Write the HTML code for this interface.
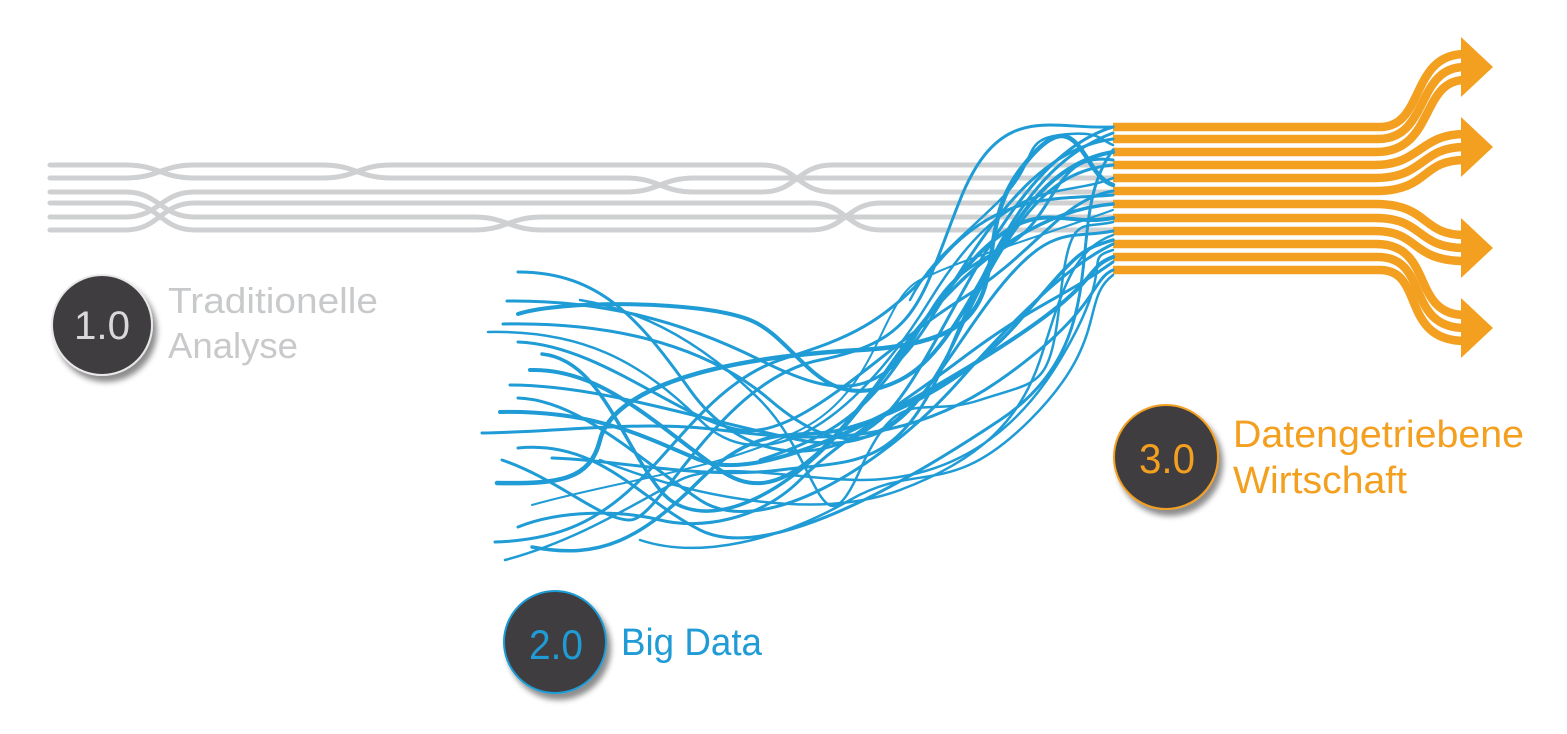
<!DOCTYPE html>
<html><head><meta charset="utf-8"><style>
html,body{margin:0;padding:0;background:#fff;}
svg{display:block;}
text{font-family:"Liberation Sans Narrow","Liberation Sans",sans-serif;}
</style></head><body>
<svg width="1567" height="734" viewBox="0 0 1567 734" xmlns="http://www.w3.org/2000/svg">
<defs>
<filter id="sh" x="-30%" y="-30%" width="170%" height="170%">
<feDropShadow dx="4" dy="6" stdDeviation="3" flood-color="#000" flood-opacity="0.45"/>
</filter>
</defs>
<g fill="none" stroke="#cfd0d2" stroke-width="5" stroke-linecap="round">
<path d="M50 165 H125 C160 165 160 178 195 178 H322 C357 178 357 165 392 165 H762 C797 165 797 192 832 192 H1112"/>
<path d="M50 178 H125 C160 178 160 165 195 165 H322 C357 165 357 178 392 178 H625 C660 178 660 192 695 192 H762 C797 192 797 165 832 165 H1112"/>
<path d="M50 192 H125 C160 192 160 217 195 217 H473 C508 217 508 230 543 230 H811 C846 230 846 203 881 203 H1112"/>
<path d="M50 203 H125 C160 203 160 230 195 230 H473 C508 230 508 217 543 217 H1112"/>
<path d="M50 217 H125 C160 217 160 192 195 192 H625 C660 192 660 178 695 178 H1112"/>
<path d="M50 230 H125 C160 230 160 203 195 203 H811 C846 203 846 230 881 230 H1112"/>
</g>
<g fill="none" stroke="#f39f20" stroke-width="8.5">
<path d="M1113 127 H1380 C1425 127 1410 54 1465 54"/>
<path d="M1113 139 H1378 C1430 139 1415 67 1465 67"/>
<path d="M1113 152 H1376 C1435 152 1420 80 1465 80"/>
<path d="M1113 165 H1375 C1420 165 1420 134 1465 134"/>
<path d="M1113 178 H1375 C1425 178 1420 147 1465 147"/>
<path d="M1113 191 H1375 C1430 191 1420 160 1465 160"/>
<path d="M1113 204 H1375 C1430 204 1420 235 1465 235"/>
<path d="M1113 218 H1375 C1425 218 1415 248 1465 248"/>
<path d="M1113 231 H1375 C1420 231 1410 261 1465 261"/>
<path d="M1113 244 H1376 C1435 244 1410 315 1465 315"/>
<path d="M1113 257 H1378 C1430 257 1405 328 1465 328"/>
<path d="M1113 270 H1380 C1425 270 1400 341 1465 341"/>
</g>
<g fill="#f39f20">
<polygon points="1461,37 1493,67 1461,97"/>
<polygon points="1461,117 1493,147 1461,177"/>
<polygon points="1461,218 1493,248 1461,278"/>
<polygon points="1461,298 1493,328 1461,358"/>
</g>
<g fill="none" stroke="#1f9bd5" stroke-linecap="round">
<path stroke-width="3" d="M518 272 C600 272 640 320 690 390 S820 470 880 420 S1000 160 1113 127"/>
<path stroke-width="3" d="M507 301 C600 300 680 320 760 360 S880 400 930 320 S1030 150 1113 139"/>
<path stroke-width="4" d="M518 314 C560 300 700 300 750 320 S820 420 900 380 S1000 170 1113 152"/>
<path stroke-width="3" d="M503 324 C600 322 700 340 770 400 S900 460 960 330 S1060 170 1113 165"/>
<path stroke-width="2.5" d="M488 332 C580 330 640 360 700 420 S850 430 930 300 S1060 200 1113 178"/>
<path stroke-width="3" d="M518 342 C600 345 680 420 740 430 S880 350 960 300 S1060 200 1113 191"/>
<path stroke-width="3.5" d="M542 354 C600 360 620 440 660 490 S800 500 880 380 S1040 210 1113 204"/>
<path stroke-width="4" d="M530 370 C600 368 650 420 720 470 S850 420 940 300 S1050 230 1113 218"/>
<path stroke-width="3" d="M510 385 C600 385 700 420 800 440 S930 380 990 300 S1070 240 1113 231"/>
<path stroke-width="3" d="M518 398 C580 400 640 460 700 500 S880 470 960 380 S1080 260 1113 244"/>
<path stroke-width="4" d="M500 412 C600 410 650 440 700 460 S850 440 980 360 S1080 270 1113 257"/>
<path stroke-width="3" d="M482 433 C560 432 640 420 720 430 S900 450 1000 380 S1090 280 1113 270"/>
<path stroke-width="3" d="M518 448 C600 440 640 500 700 530 S880 500 1000 420 S1060 220 1113 150"/>
<path stroke-width="3" d="M552 458 C620 460 700 480 780 470 S900 470 950 350 S1040 160 1113 133"/>
<path stroke-width="3" d="M502 460 C560 480 600 520 630 520 S720 380 820 360 S920 300 960 200 S1050 130 1113 127"/>
<path stroke-width="4.5" d="M497 483 C560 484 590 480 600 440 S680 360 860 350 S960 250 1020 170 S1080 175 1113 185"/>
<path stroke-width="2" d="M532 505 C620 480 720 470 800 430 S880 300 920 280 S1000 250 1113 210"/>
<path stroke-width="3" d="M518 527 C560 510 620 510 660 520 S760 520 800 480 S880 420 960 360 S1060 300 1113 262"/>
<path stroke-width="3" d="M495 542 C560 540 600 520 640 480 S720 380 780 360 S880 330 940 260 S1060 200 1113 195"/>
<path stroke-width="3.5" d="M532 547 C600 560 640 540 700 480 S800 440 840 430 S960 390 1020 320 S1080 250 1113 240"/>
<path stroke-width="2.5" d="M505 560 C580 540 640 500 680 480 S800 480 860 480 S1000 460 1060 360 S1080 260 1113 250"/>
<path stroke-width="2.5" d="M580 300 C640 310 700 340 760 400 S820 560 860 470 S920 420 980 400 S1050 390 1060 300 S1080 230 1113 222"/>
<path stroke-width="2.5" d="M600 460 C700 500 820 520 900 490 S1020 420 1040 360 S1070 250 1113 235"/>
<path stroke-width="3" d="M760 460 C820 440 860 420 900 360 S940 280 1000 250 S1050 150 1113 160"/>
<path stroke-width="2.5" d="M640 540 C700 560 780 540 850 500 S950 500 1030 420 S1080 300 1113 275"/>
<path stroke-width="2.5" d="M910 300 C930 260 960 240 1000 200 S1020 140 1060 135 S1100 140 1113 145"/>
</g>
<g filter="url(#sh)">
<circle cx="102" cy="325" r="50" fill="#3f3e41" stroke="#e8e8e8" stroke-width="2"/>
<circle cx="555" cy="642" r="51" fill="#3f3e41" stroke="#1f9bd5" stroke-width="2"/>
<circle cx="1166" cy="457" r="52" fill="#3f3e41" stroke="#f39f20" stroke-width="2"/>
</g>
<text x="102" y="339" font-size="40" fill="#d9d9da" text-anchor="middle" textLength="56" lengthAdjust="spacingAndGlyphs">1.0</text>
<text x="556" y="659" font-size="42" fill="#1f9bd5" text-anchor="middle" textLength="54" lengthAdjust="spacingAndGlyphs">2.0</text>
<text x="1167" y="473" font-size="42" fill="#f39f20" text-anchor="middle" textLength="56" lengthAdjust="spacingAndGlyphs">3.0</text>
<text x="168" y="313" font-size="36" fill="#c8c9cb" textLength="210" lengthAdjust="spacingAndGlyphs">Traditionelle</text>
<text x="168" y="358" font-size="36" fill="#c8c9cb" textLength="130" lengthAdjust="spacingAndGlyphs">Analyse</text>
<text x="621" y="655" font-size="38" fill="#1f9bd5" textLength="141" lengthAdjust="spacingAndGlyphs">Big Data</text>
<text x="1233" y="447" font-size="38" fill="#f39f20" textLength="291" lengthAdjust="spacingAndGlyphs">Datengetriebene</text>
<text x="1233" y="493" font-size="38" fill="#f39f20" textLength="174" lengthAdjust="spacingAndGlyphs">Wirtschaft</text>
</svg>
</body></html>
